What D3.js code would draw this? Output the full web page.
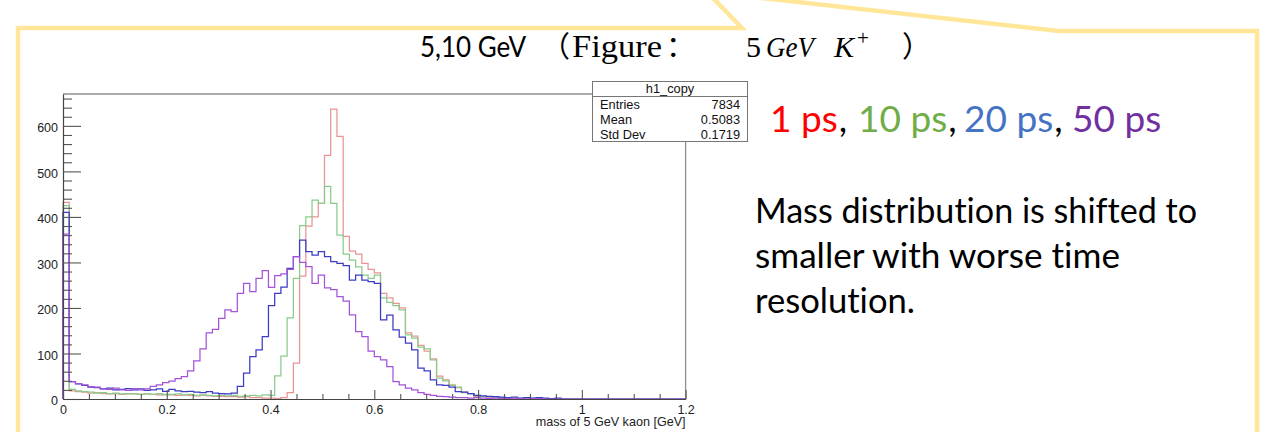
<!DOCTYPE html>
<html>
<head>
<meta charset="utf-8">
<script src="https://cdn.jsdelivr.net/npm/d3@7"></script>
<style>
  html, body { margin: 0; padding: 0; background: #fff; }
  svg { display: block; }
  text { font-variant-ligatures: none; font-feature-settings: "liga" 0, "clig" 0; }
</style>
</head>
<body>
<svg id="chart" width="1268" height="432"></svg>
<script>
// Histogram binning: 100 bins over 0 - 1.2 GeV
const binWidth = 0.012;
const nBins = 100;

// Counts per bin for each time resolution
const counts1ps = [
  432,
  18,16,15,13,14,12,11,12,10,11,
  12,10,11,10,9,10,9,8,9,8,
  7,8,7,6,6,5,5,4,5,3,
  3,2,2,1,3,14,79,270,380,400,
  430,535,637,577,357,325,318,298,285,277,
  232,222,210,200,145,138,118,105,88,50,
  42,30,25,14,12,6,5,3,3,2,
  2,1,1,1,0,1,0,0,0,0,
  0,0,0,0,0,0,0,0,0,0,
  0,0,0,0,0,0,0,0,0
];
const counts10ps = [
  425,
  21,18,16,15,13,14,12,13,11,12,
  11,10,11,10,12,9,10,11,9,10,
  8,9,8,7,8,7,8,6,7,8,
  7,9,8,51,94,178,265,381,400,437,
  430,467,430,360,318,305,290,272,265,272,
  222,212,205,196,141,134,114,110,86,46,
  40,31,26,15,12,8,6,5,4,3,
  2,3,2,1,2,1,1,0,1,0,
  0,0,0,0,0,0,0,0,0,0,
  0,0,0,0,0,0,0,0,0
];
const counts20ps = [
  410,
  38,33,30,26,25,22,24,20,21,23,
  20,22,19,20,22,17,21,18,16,17,
  15,14,16,13,12,11,13,28,57,93,
  108,137,205,232,246,287,313,349,324,316,
  324,313,302,298,293,261,272,261,258,254,
  174,184,152,136,123,108,68,62,42,31,
  30,26,16,15,12,8,7,6,5,4,
  3,4,2,3,2,3,2,1,2,0,
  0,0,0,0,0,0,0,0,0,0,
  0,0,0,0,0,0,0,0,0
];
const counts50ps = [
  362,
  38,34,31,27,26,22,21,24,20,19,
  23,20,22,28,31,36,39,45,49,62,
  84,110,145,153,177,196,192,232,254,236,
  265,282,245,271,275,285,313,300,291,254,
  272,244,240,225,215,185,148,137,105,93,
  86,71,38,31,24,20,14,10,8,6,
  5,4,3,3,2,3,2,1,2,1,
  1,2,1,0,1,1,0,0,0,0,
  0,0,0,0,0,0,0,0,0,0,
  0,0,0,0,0,0,0,0,0
];

const seriesLabels = ["1 ps", "10 ps", "20 ps", "50 ps"];
const yTickValues = [0, 100, 200, 300, 400, 500, 600];
const xTickValues = [0, 0.2, 0.4, 0.6, 0.8, 1, 1.2];
const statsLabels = ["Entries", "Mean", "Std Dev"];
const statsValues = ["7834", "0.5083", "0.1719"];
const histName = "h1_copy";
const xTitle = "mass of 5 GeV kaon [GeV]";
const noteLines = ["Mass distribution is shifted to", "smaller with worse time", "resolution."];

// ---- styling ----
const lineColors = ["#E99494", "#8ACB8A", "#3B3BC4", "#A453DA"];
const textColors = ["#FF0000", "#70AD47", "#4472C4", "#7030A0"];
const rootFont = "'Liberation Sans', Arial, Helvetica, sans-serif";
const sansFont = "Lato, 'Open Sans', sans-serif";
const serifFont = "'Liberation Serif', 'DejaVu Serif', serif";
const cjkFont = "'Noto Sans CJK SC', 'Noto Sans CJK JP', sans-serif";

const svg = d3.select("#chart");
svg.append("rect").attr("width", 1268).attr("height", 432).attr("fill", "#fff");

// ---- callout outline ----
const border = svg.append("g")
  .attr("fill", "none")
  .attr("stroke", "#FFE699")
  .attr("stroke-width", 4.5)
  .attr("stroke-linejoin", "miter");
border.append("path").attr("d", "M18,440 V28 H742 L711,-4");
border.append("path").attr("d", "M752,-3 L1059,31 H1257 V440");

// ---- title: "5,10 GeV （Figure： 5 GeV K+）" ----
const titleG = svg.append("g").attr("fill", "#000");
titleG.append("text")
  .attr("x", 420).attr("y", 57)
  .attr("font-family", sansFont).attr("font-size", 29)
  .attr("textLength", 106).attr("lengthAdjust", "spacingAndGlyphs")
  .text("5,10 GeV");
titleG.append("text").attr("x", 541).attr("y", 57)
  .attr("font-family", cjkFont).attr("font-size", 29).text("（");
titleG.append("text").attr("x", 572).attr("y", 57)
  .attr("font-family", serifFont).attr("font-size", 31)
  .attr("textLength", 90).attr("lengthAdjust", "spacingAndGlyphs")
  .text("Figure");
titleG.append("text").attr("x", 666).attr("y", 57)
  .attr("font-family", cjkFont).attr("font-size", 29).text("：");
titleG.append("text").attr("x", 746).attr("y", 57)
  .attr("font-family", serifFont).attr("font-size", 30).text("5");
titleG.append("text").attr("x", 766).attr("y", 57)
  .attr("font-family", serifFont).attr("font-style", "italic").attr("font-size", 30)
  .attr("textLength", 48).attr("lengthAdjust", "spacingAndGlyphs").text("GeV");
titleG.append("text").attr("x", 834).attr("y", 57)
  .attr("font-family", serifFont).attr("font-style", "italic").attr("font-size", 30).text("K");
titleG.append("text").attr("x", 857).attr("y", 45)
  .attr("font-family", serifFont).attr("font-size", 21).text("+");
titleG.append("text").attr("x", 902).attr("y", 57)
  .attr("font-family", cjkFont).attr("font-size", 29).text("）");

// ---- scales ----
const x = d3.scaleLinear().domain([0, 1.2]).range([63, 685.6]);
const y = d3.scaleLinear().domain([0, 670]).range([399, 94]);

const plot = svg.append("g");

// frame (top and right)
plot.append("path")
  .attr("d", `M${x(0)},${y(670)} H${x(1.2)} V${y(0)}`)
  .attr("fill", "none").attr("stroke", "#8f8f8f").attr("stroke-width", 1.3);

// ---- histograms ----
const lowEdges = d3.range(nBins).map(i => i * binWidth);
const allSeries = [counts1ps, counts10ps, counts20ps, counts50ps];
const stepLine = d3.line()
  .x(d => x(d[0]))
  .y(d => y(d[1]))
  .curve(d3.curveStepAfter);

allSeries.forEach((counts, s) => {
  const pts = [[0, 0]];
  counts.forEach((c, i) => pts.push([lowEdges[i], c]));
  pts.push([x.domain()[1], counts[counts.length - 1]]);
  pts.push([x.domain()[1], 0]);
  plot.append("path")
    .datum(pts)
    .attr("d", stepLine)
    .attr("fill", "none")
    .attr("stroke", lineColors[s])
    .attr("stroke-width", 1.25);
});

// ---- axes ----
const yMinor = d3.range(0, 670, 20).filter(v => v % 100 !== 0);
const yMinorAxis = d3.axisLeft(y).tickValues(yMinor).tickSizeInner(-9).tickSizeOuter(0).tickFormat("");
const yAxis = d3.axisLeft(y).tickValues(yTickValues).tickSizeInner(-18).tickSizeOuter(0).tickPadding(5).tickFormat(d3.format("d"));

const gyMinor = plot.append("g").attr("transform", `translate(${x(0)},0)`).call(yMinorAxis);
gyMinor.select(".domain").remove();
const gy = plot.append("g").attr("transform", `translate(${x(0)},0)`).call(yAxis);

const xMinor = d3.range(0, 1.2001, 0.05).filter(v => Math.abs(v / 0.2 - Math.round(v / 0.2)) > 1e-6);
const xMinorAxis = d3.axisBottom(x).tickValues(xMinor).tickSizeInner(-5).tickSizeOuter(0).tickFormat("");
const xAxis = d3.axisBottom(x).tickValues(xTickValues).tickSizeInner(-9).tickSizeOuter(0).tickPadding(6).tickFormat(d3.format("~g"));

const gxMinor = plot.append("g").attr("transform", `translate(0,${y(0)})`).call(xMinorAxis);
gxMinor.select(".domain").remove();
const gx = plot.append("g").attr("transform", `translate(0,${y(0)})`).call(xAxis);

[gy, gx, gyMinor, gxMinor].forEach(g => {
  g.selectAll(".tick line").attr("stroke", "#555").attr("stroke-width", 1.1);
  g.selectAll(".domain").attr("stroke", "#444").attr("stroke-width", 1.2);
  g.selectAll("text").attr("font-family", rootFont).attr("font-size", 12.5).attr("fill", "#222");
});
gy.selectAll("text").attr("dy", "0.45em");

plot.append("text")
  .attr("x", x(1.2)).attr("y", 426)
  .attr("text-anchor", "end")
  .attr("font-family", rootFont).attr("font-size", 12.6).attr("fill", "#222")
  .text(xTitle);

// ---- statistics box ----
const stats = svg.append("g").attr("font-family", rootFont).attr("font-size", 12.8).attr("fill", "#111");
stats.append("rect")
  .attr("x", 592.5).attr("y", 81.5).attr("width", 155).attr("height", 60)
  .attr("fill", "#fff").attr("stroke", "#777").attr("stroke-width", 1);
stats.append("line")
  .attr("x1", 592.5).attr("x2", 747.5).attr("y1", 96.5).attr("y2", 96.5)
  .attr("stroke", "#777").attr("stroke-width", 1);
stats.append("text").attr("x", 670).attr("y", 93).attr("text-anchor", "middle").text(histName);
statsLabels.forEach((lab, i) => {
  const yy = 109 + i * 14.8;
  stats.append("text").attr("x", 600).attr("y", yy).text(lab);
  stats.append("text").attr("x", 740).attr("y", yy).attr("text-anchor", "end").text(statsValues[i]);
});

// ---- legend line: coloured labels separated by commas ----
const legendStarts = [770, 858, 964, 1072];
const legendG = svg.append("g").attr("font-family", sansFont).attr("font-size", 37);
seriesLabels.forEach((lab, i) => {
  const t = legendG.append("text")
    .attr("x", legendStarts[i]).attr("y", 132)
    .attr("fill", textColors[i]).text(lab);
  if (i < seriesLabels.length - 1) {
    const w = t.node().getComputedTextLength();
    legendG.append("text")
      .attr("x", legendStarts[i] + w + 1).attr("y", 132)
      .attr("fill", "#000").text(",");
  }
});

// ---- note ----
const noteWidths = [442, 365, 160];
noteLines.forEach((line, i) => {
  svg.append("text")
    .attr("x", 755).attr("y", 223 + i * 45)
    .attr("font-family", sansFont).attr("font-size", 35).attr("fill", "#000")
    .attr("textLength", noteWidths[i]).attr("lengthAdjust", "spacingAndGlyphs")
    .text(line);
});
</script>
</body>
</html>
